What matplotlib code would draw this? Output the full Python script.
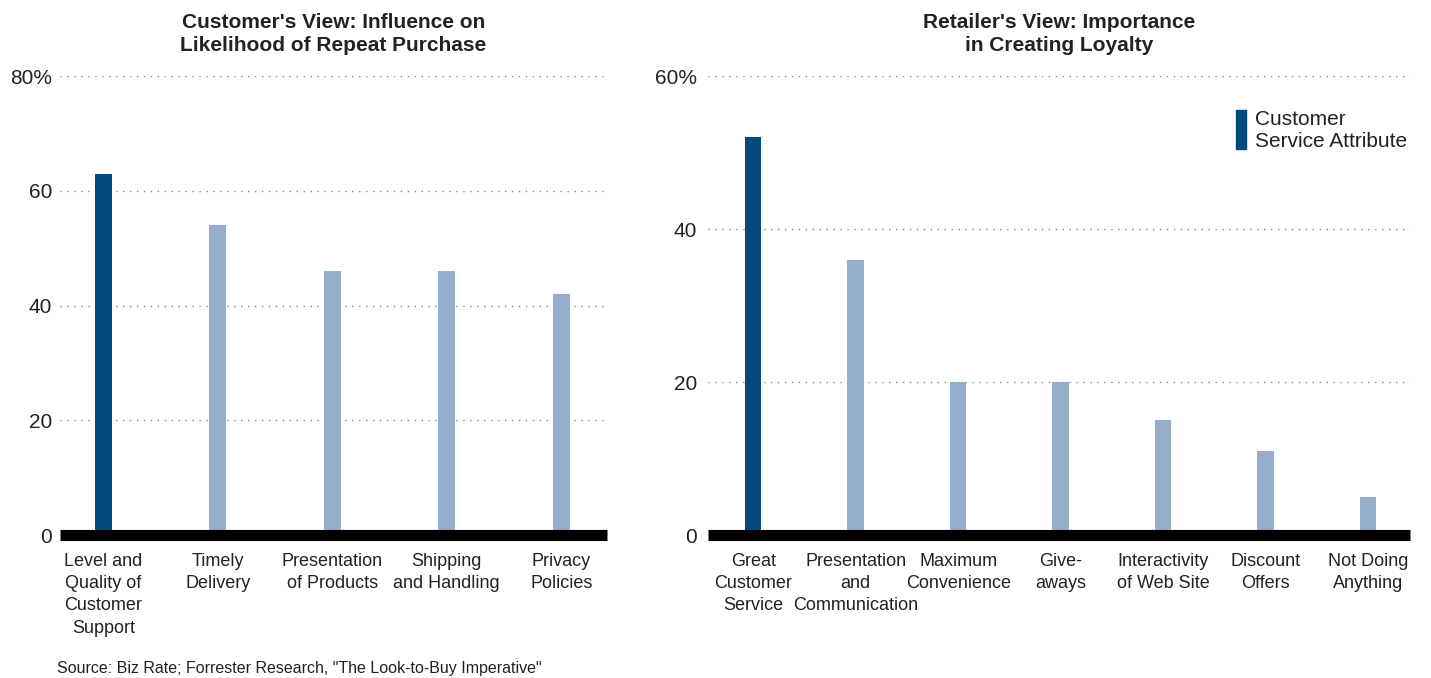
import matplotlib.pyplot as plt
from matplotlib.patches import Rectangle

plt.rcParams['font.family'] = ['Liberation Sans', 'DejaVu Sans']

# left panel: customer's view
cust_labels = ['Level and\nQuality of\nCustomer\nSupport', 'Timely\nDelivery',
               'Presentation\nof Products', 'Shipping\nand Handling', 'Privacy\nPolicies']
cust_values = [63, 54, 46, 46, 42]
cust_highlight = [True, False, False, False, False]

# right panel: retailer's view
ret_labels = ['Great\nCustomer\nService', 'Presentation\nand\nCommunication',
              'Maximum\nConvenience', 'Give-\naways', 'Interactivity\nof Web Site',
              'Discount\nOffers', 'Not Doing\nAnything']
ret_values = [52, 36, 20, 20, 15, 11, 5]
ret_highlight = [True, False, False, False, False, False, False]

dark = '#02497c'
light = '#97aeca'
text_col = '#222222'


def panel(ax, labels, values, highlight, ymax, title, xlim, width, ypad):
    x = range(len(values))
    colors = [dark if h else light for h in highlight]
    ax.bar(x, values, width=width, color=colors, zorder=2)
    ax.set_xlim(*xlim)
    ax.set_ylim(0, ymax)
    ticks = list(range(0, ymax + 1, 20))
    ax.set_yticks(ticks)
    ax.set_yticklabels([str(t) for t in ticks[:-1]] + [f'{ymax}%'])
    for t in ticks[1:]:
        ax.axhline(t, color='#888888', lw=1, ls=(0, (1, 4)), zorder=1)
    ax.axhline(0, color='black', lw=8, zorder=3, clip_on=False,
               solid_capstyle='butt')
    ax.set_xticks(list(x))
    ax.set_xticklabels(labels, fontsize=13, color=text_col, linespacing=1.4)
    ax.tick_params(axis='x', length=0, pad=13)
    ax.tick_params(axis='y', length=0, pad=ypad, labelsize=15, labelcolor=text_col)
    for s in ax.spines.values():
        s.set_visible(False)
    ax.set_title(title, fontsize=15, fontweight='bold', color=text_col, pad=18,
                 linespacing=1.25)


fig = plt.figure(figsize=(14.31, 6.78), dpi=100)
ax1 = fig.add_axes([0.0419, 0.2109, 0.3823, 0.677])
ax2 = fig.add_axes([0.4948, 0.2109, 0.4906, 0.677])

panel(ax1, cust_labels, cust_values, cust_highlight, 80,
      "Customer's View: Influence on\nLikelihood of Repeat Purchase",
      (-0.38, 4.4), 0.15, 5.5)
panel(ax2, ret_labels, ret_values, ret_highlight, 60,
      "Retailer's View: Importance\nin Creating Loyalty",
      (-0.44, 6.41), 0.16, 8)

# legend key drawn by hand
ax2.add_patch(Rectangle((0.752, 0.841), 0.014, 0.085, transform=ax2.transAxes,
                        color=dark, clip_on=False))
ax2.text(0.779, 0.927, 'Customer\nService Attribute', transform=ax2.transAxes,
         fontsize=15, color=text_col, va='top', ha='left', linespacing=1.2)

fig.text(0.0398, 0.0074, 'Source: Biz Rate; Forrester Research, "The Look-to-Buy Imperative"',
         fontsize=11.5, color=text_col, va='baseline')

fig.savefig('out.png', dpi=100)
